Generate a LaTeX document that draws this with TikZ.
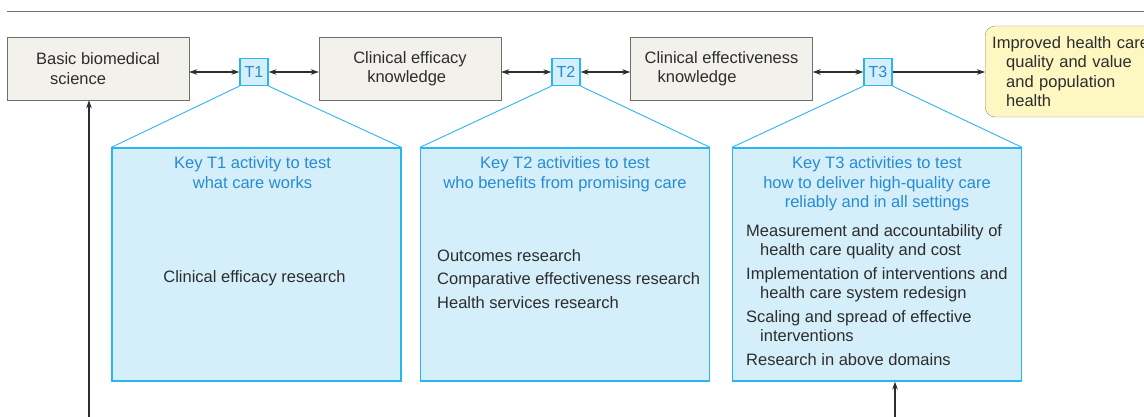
\documentclass[tikz,border=0pt]{standalone}
\usepackage{fontspec}
\setmainfont{Liberation Sans}
\usepackage{tikz}
\usetikzlibrary{arrows.meta}
\definecolor{tblue}{RGB}{41,182,240}
\definecolor{tfill}{RGB}{212,238,250}
\definecolor{keytext}{RGB}{38,140,212}
\definecolor{boxgray}{RGB}{242,241,236}
\definecolor{boxline}{RGB}{110,110,110}
\definecolor{outyellow}{RGB}{253,247,194}
\definecolor{outline}{RGB}{140,138,110}
\definecolor{ink}{RGB}{45,45,45}

\begin{document}
\begin{tikzpicture}[x=1pt, y=-1pt,
	font=\fontsize{16.5}{19.5}\selectfont,
	stage/.style={draw=boxline, fill=boxgray, text=ink, align=left, minimum width=182pt, minimum height=63pt, inner sep=0pt},
	gate/.style={draw=tblue, fill=tfill, line width=1.2pt, text=keytext, minimum width=28pt, minimum height=27pt, inner sep=0pt, font=\fontsize{16}{19}\selectfont},
	key box/.style={draw=tblue, fill=tfill, line width=1.2pt, minimum width=289pt, minimum height=233pt},
	key head/.style={text=keytext, align=center, inner sep=0pt, anchor=north},
	key item/.style={text=ink, align=left, inner sep=0pt},
	link/.style={ink, line width=1.1pt, >={Stealth[length=8pt, width=5.5pt]}},
	fan/.style={tblue, line width=0.9pt}]
	%\draw[help lines] (0,0) grid (1144,417);
	\useasboundingbox (0,0) rectangle (1144,417);
		\coordinate (rule start) at (7,11);
		\coordinate (rule end) at (1144,11);
		\draw[boxline, line width=0.9pt] (rule start) -- (rule end);
		% stages of knowledge
		\node[stage] (basic) at (98,68.5) {Basic biomedical\\\hspace*{14pt}science};
		\node[stage] (efficacy) at (410,68.5) {Clinical efficacy\\\hspace*{14pt}knowledge};
		\node[stage] (effect) at (721.5,68.5) {Clinical effectiveness\\\hspace*{13pt}knowledge};
		\node[draw=outline, fill=outyellow, rounded corners=10pt, text=ink, anchor=west, align=left,
		      text width=186pt, minimum height=91pt, inner xsep=7pt] (health) at (985,71.5)
		      {Improved health care\\\hspace*{14pt}quality and value\\\hspace*{14pt}and population\\\hspace*{14pt}health};
		\node[gate] (t1) at (254,72) {T1};
		\node[gate] (t2) at (566,72) {T2};
		\node[gate] (t3) at (878,72) {T3};
		% key activities
		\node[key box] (key1) at (256.5,264.5) {};
		\node[key box] (key2) at (565,264.5) {};
		\node[key box] (key3) at (877,264.5) {};
		\foreach \t/\k in {t1/key1, t2/key2, t3/key3}{
		  \draw[fan] (\t.south west) -- (\k.north west);
		  \draw[fan] (\t.south east) -- (\k.north east);
		}
		\node[key head] (head1) at ([xshift=-4pt, yshift=-9pt]key1.north) {Key T1 activity to test\\what care works};
		\node[key head] (head2) at ([yshift=-9pt]key2.north) {Key T2 activities to test\\who benefits from promising care};
		\node[key head] (head3) at ([yshift=-9pt]key3.north) {Key T3 activities to test\\how to deliver high-quality care\\reliably and in all settings};
		\node[key item] (body1) at (254.5,278) {Clinical efficacy research};
		\node[key item, anchor=west] (body2) at (437,279) {Outcomes research\\[4pt]Comparative effectiveness research\\[4pt]Health services research};
		\node[key item, anchor=north west] (body3) at (746,224) {Measurement and accountability of\\\hspace*{14pt}health care quality and cost\\[4pt]Implementation of interventions and\\\hspace*{14pt}health care system redesign\\[4pt]Scaling and spread of effective\\\hspace*{14pt}interventions\\[4pt]Research in above domains};
		% links between stages
		\draw[link, <->] (basic.east |- t1.west) -- (t1.west);
		\draw[link, <->] (t1.east) -- (t1.east -| efficacy.west);
		\draw[link, <->] (efficacy.east |- t2.west) -- (t2.west);
		\draw[link, <->] (t2.east) -- (t2.east -| effect.west);
		\draw[link, <->] (effect.east |- t3.west) -- (t3.west);
		\draw[link, ->] (t3.east) -- (t3.east -| health.west);
		\coordinate (feed1) at (89,417);
		\coordinate (feed3) at (895,417);
		\draw[link, line width=1.4pt, ->] (feed1) -- (feed1 |- basic.south);
		\draw[link, line width=1.4pt, ->] (feed3) -- (feed3 |- key3.south);
	\end{tikzpicture}
\end{document}
